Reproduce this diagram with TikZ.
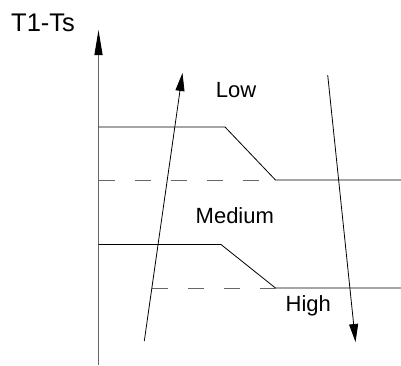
\documentclass[tikz,border=0pt]{standalone}
\usepackage{fontspec}
\setmainfont{Liberation Sans}
\usetikzlibrary{arrows.meta}
\begin{document}
\begin{tikzpicture}[x=1pt,y=-1pt,
  axisline/.style={draw=black!60,line width=1pt},
  curve/.style={draw=black,line width=0.8pt},
  dashline/.style={draw=black!60,line width=0.8pt,dash pattern=on 16pt off 20pt},
  sweep/.style={draw=black,line width=0.8pt,-{Triangle[length=18pt,width=9pt]}},
  lbl/.style={inner sep=0pt,anchor=base west,font=\fontsize{22}{26}\selectfont},
]
\useasboundingbox (0,0) rectangle (401,365);
% axis
\coordinate (axb) at (98.5,365);
\coordinate (axt) at (98.5,30);
\draw[axisline,-{Triangle[length=25pt,width=8pt,black]}] (axb) -- (axt);
\node[lbl,font=\fontsize{25.5}{30}\selectfont] (ylab) at (11,31.7) {T1-Ts};
% upper curve
\coordinate (u0) at (98.5,127);
\coordinate (u1) at (225,127);
\coordinate (u2) at (275.5,180);
\coordinate (u3) at (401,180);
\draw[curve] (u0) -- (u1) -- (u2) -- (u3);
\coordinate (ud) at (98.5,180);
\draw[dashline] (ud) -- (u2);
% lower curve
\coordinate (l0) at (98.5,244.5);
\coordinate (l1) at (221,244.5);
\coordinate (l2) at (275.5,288);
\coordinate (l3) at (401,288);
\draw[curve] (l0) -- (l1) -- (l2) -- (l3);
\coordinate (ld) at (152,288);
\draw[dashline] (ld) -- (l2);
% sweep arrows
\coordinate (r0) at (144.3,341);
\coordinate (r1) at (182.5,73);
\draw[sweep] (r0) -- (r1);
\coordinate (f0) at (327.7,75);
\coordinate (f1) at (355.5,342);
\draw[sweep] (f0) -- (f1);
% labels
\node[lbl] (low) at (215.7,97.3) {Low};
\node[lbl] (med) at (195.5,223.3) {Medium};
\node[lbl] (high) at (285.5,311) {High};
\end{tikzpicture}
\end{document}
